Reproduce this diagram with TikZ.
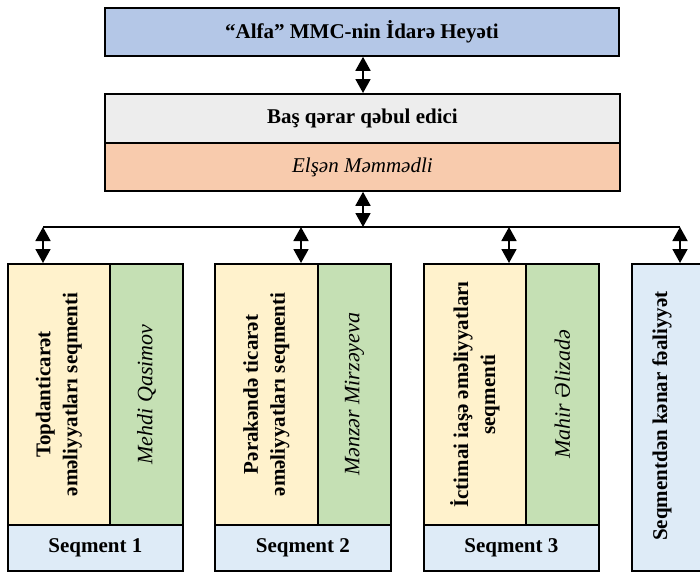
\documentclass[tikz,border=0pt]{standalone}
\usepackage{fontspec}
\setmainfont{Liberation Serif}
\usetikzlibrary{arrows.meta}
\definecolor{cTop}{HTML}{B4C7E7}
\definecolor{cGray}{HTML}{EDEDED}
\definecolor{cOrange}{HTML}{F8CBAD}
\definecolor{cYellow}{HTML}{FFF2CC}
\definecolor{cGreen}{HTML}{C5E0B4}
\definecolor{cBlue}{HTML}{DEEBF7}
\tikzset{
  box/.style={draw=black, line width=1.8pt, rectangle, inner sep=0pt, anchor=north west},
  btxt/.style={font=\fontsize{21}{27}\selectfont\bfseries, align=center, inner sep=0pt},
  itxt/.style={font=\fontsize{21}{27}\selectfont\itshape, align=center, inner sep=0pt},
  gtxt/.style={font=\fontsize{22}{27}\selectfont\itshape, align=center, inner sep=0pt, rotate=90},
  dbl/.style={line width=1.8pt, {Triangle[width=15pt,length=14pt]}-{Triangle[width=15pt,length=14pt]}},
}
\begin{document}
\begin{tikzpicture}[x=1pt,y=-1pt]
\useasboundingbox (0,0) rectangle (700,571);
\fill[white] (0,0) rectangle (700,571);
% top
\node[box, fill=cTop, minimum width=514pt, minimum height=48pt] (top) at (104,7) {};
\node[btxt] (toptxt) at (top.center) {“Alfa” MMC-nin İdarə Heyəti};
\node[box, fill=cGray, minimum width=515pt, minimum height=49pt] (gray) at (104,93) {};
\node[btxt] (graytxt) at (gray.center) {Baş qərar qəbul edici};
\node[box, fill=cOrange, minimum width=515pt, minimum height=48pt] (orange) at (104,142) {};
\node[itxt] (orangetxt) at (orange.center) {Elşən Məmmədli};
% segment 1
\node[box, fill=cYellow, minimum width=102pt, minimum height=261pt] (y1) at (7,263) {};
\node[box, fill=cGreen, minimum width=73pt, minimum height=261pt] (g1) at (109,263) {};
\node[box, fill=cBlue, minimum width=175pt, minimum height=46pt] (s1) at (7,524) {};
\node[btxt, rotate=90] (y1t) at (y1.center) {Topdanticarət\\əməliyyatları seqmenti};
\node[gtxt] (g1t) at (g1.center) {Mehdi Qasimov};
\node[btxt] (s1t) at (s1.center) {Seqment 1};
% segment 2
\node[box, fill=cYellow, minimum width=103pt, minimum height=261pt] (y2) at (214,263) {};
\node[box, fill=cGreen, minimum width=73pt, minimum height=261pt] (g2) at (317,263) {};
\node[box, fill=cBlue, minimum width=176pt, minimum height=46pt] (s2) at (214,524) {};
\node[btxt, rotate=90] (y2t) at (y2.center) {Pərakəndə ticarət\\əməliyyatları seqmenti};
\node[gtxt] (g2t) at (g2.center) {Mənzər Mirzəyeva};
\node[btxt] (s2t) at (s2.center) {Seqment 2};
% segment 3
\node[box, fill=cYellow, minimum width=102pt, minimum height=261pt] (y3) at (423,263) {};
\node[box, fill=cGreen, minimum width=73pt, minimum height=261pt] (g3) at (525,263) {};
\node[box, fill=cBlue, minimum width=175pt, minimum height=46pt] (s3) at (423,524) {};
\node[btxt, rotate=90] (y3t) at (y3.center) {İctimai iaşə əməliyyatları\\seqmenti};
\node[gtxt] (g3t) at (g3.center) {Mahir Əlizadə};
\node[btxt] (s3t) at (s3.center) {Seqment 3};
% segment 4
\node[box, fill=cBlue, minimum width=80pt, minimum height=307pt] (b4) at (631,263) {};
\node[btxt, rotate=90] (b4t) at (662,416) {Seqmentdən kənar fəaliyyət};
% connectors
\coordinate (bus) at (363,227);
\coordinate (c1) at (43,227);
\coordinate (c2) at (301,227);
\coordinate (c3) at (509,227);
\coordinate (c4) at (680,227);
\draw[dbl] (top.south -| bus) -- (gray.north -| bus);
\draw[dbl] (orange.south -| bus) -- (bus);
\draw[line width=1.8pt] (c1) -- (c4);
\draw[dbl] (c1) -- (c1 |- y1.north);
\draw[dbl] (c2) -- (c2 |- y2.north);
\draw[dbl] (c3) -- (c3 |- y3.north);
\draw[dbl] (c4) -- (c4 |- b4.north);
\end{tikzpicture}
\end{document}
